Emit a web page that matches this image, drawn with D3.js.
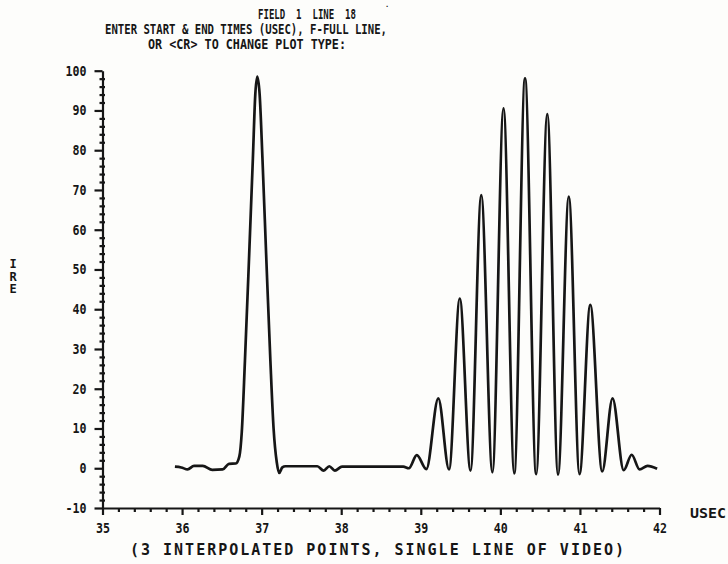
<!DOCTYPE html>
<html>
<head>
<meta charset="utf-8">
<script src="https://cdn.jsdelivr.net/npm/d3@7"></script>
<style>
  body { margin: 0; background: #fdfdfb; }
  svg text { font-family: "DejaVu Sans Mono", monospace; font-weight: bold; font-size: 13px; fill: #161616; white-space: pre; }
</style>
</head>
<body>
<svg width="728" height="564"></svg>
<script>
// Data
var timeUsec = [35.91, 35.99, 36.07, 36.15, 36.26, 36.38, 36.51, 36.59, 36.675, 36.72,
  36.75, 36.79, 36.84, 36.89, 36.92, 36.946, 36.975, 37.01, 37.06, 37.11,
  37.15, 37.19, 37.22, 37.26, 37.30, 37.70, 37.78, 37.85, 37.92, 38.01,
  38.78, 38.85, 38.95, 39.07, 39.22, 39.355, 39.49, 39.625, 39.76, 39.90,
  40.04, 40.175, 40.31, 40.45, 40.59, 40.725, 40.86, 40.995, 41.13, 41.28,
  41.41, 41.55, 41.65, 41.75, 41.85, 41.97];
var ireValues = [0.4, 0.2, -0.3, 0.6, 0.6, -0.4, -0.3, 1.1, 1.2, 3,
  9, 27, 52, 78, 94, 98.5, 94, 78, 52, 27,
  10, 1.5, -1.2, 0.2, 0.5, 0.5, -0.6, 0.5, -0.6, 0.4,
  0.4, 0.0, 3.3, -0.2, 17.6, -0.3, 42.7, -0.6, 68.7, -1.0,
  90.5, -1.3, 98.1, -1.5, 89.1, -1.6, 68.3, -1.5, 41.1, -0.8,
  17.6, -0.5, 3.4, -0.3, 0.6, -0.1];

var xMajor = [35, 36, 37, 38, 39, 40, 41, 42];
var yMajor = [-10, 0, 10, 20, 30, 40, 50, 60, 70, 80, 90, 100];

var titleLines = ["FIELD  1  LINE  18", "ENTER START & END TIMES (USEC), F-FULL LINE,", "OR <CR> TO CHANGE PLOT TYPE:"];
var xTitle = "(3 INTERPOLATED POINTS, SINGLE LINE OF VIDEO)";
var yTitle = ["I", "R", "E"];

var svg = d3.select("svg");
var ink = "#161616";

// squeeze the mono font to look like the plotter lettering
function squeeze(sel, perChar) {
  sel.each(function() {
    var t = d3.select(this);
    t.attr("textLength", t.text().length * perChar).attr("lengthAdjust", "spacingAndGlyphs");
  });
}

// scales
var x = d3.scaleLinear().domain([35, 42]).range([102.5, 659.5]);
var y = d3.scaleLinear().domain([-10, 100]).range([508, 70.7]);

var points = timeUsec.map(function(t, i) { return [t, ireValues[i]]; });

// y minor ticks (cross the axis)
var yMinor = d3.range(-8, 100, 2).filter(function(v) { return v % 10 != 0; });
svg.append("g")
  .attr("transform", "translate(" + x(35) + ",0)")
  .call(d3.axisLeft(y).tickValues(yMinor).tickSize(3).tickFormat(""))
  .call(function(g) { g.select(".domain").remove(); });
svg.append("g")
  .attr("transform", "translate(" + x(35) + ",0)")
  .call(d3.axisRight(y).tickValues(yMinor).tickSize(2.5).tickFormat(""))
  .call(function(g) { g.select(".domain").remove(); });

// y axis with labels
svg.append("g")
  .attr("class", "yaxis")
  .attr("transform", "translate(" + x(35) + ",0)")
  .call(d3.axisLeft(y).tickValues(yMajor).tickSizeInner(8).tickSizeOuter(0).tickPadding(8)
    .tickFormat(function(d) { return String(d); }));

// x minor ticks
var xMinor = d3.range(35.2, 42, 0.2).filter(function(v) { return Math.abs(v - Math.round(v)) > 0.01; });
svg.append("g")
  .attr("transform", "translate(0," + y(-10) + ")")
  .call(d3.axisBottom(x).tickValues(xMinor).tickSize(4).tickFormat(""))
  .call(function(g) { g.select(".domain").remove(); });

// x axis with labels
svg.append("g")
  .attr("class", "xaxis")
  .attr("transform", "translate(0," + y(-10) + ")")
  .call(d3.axisBottom(x).tickValues(xMajor).tickSizeInner(7).tickSizeOuter(0).tickPadding(8)
    .tickFormat(function(d) { return String(d); }));

svg.selectAll(".domain, .tick line")
  .attr("stroke", ink)
  .attr("stroke-width", 2.2);
svg.selectAll(".tick text")
  .attr("fill", ink)
  .style("font-size", "13.5px")
  .call(squeeze, 7);

// the waveform
svg.append("path")
  .datum(points)
  .attr("fill", "none")
  .attr("stroke", ink)
  .attr("stroke-width", 2.7)
  .attr("stroke-linejoin", "round")
  .attr("d", d3.line()
    .x(function(d) { return x(d[0]); })
    .y(function(d) { return y(d[1]); })
    .curve(d3.curveMonotoneX));

// header text
svg.append("text").attr("x", 258).attr("y", 19).text(titleLines[0])
  .style("font-size", "14px")
  .attr("textLength", 98).attr("lengthAdjust", "spacingAndGlyphs");
svg.append("text").attr("x", 385).attr("y", 7).text(".")
  .style("font-size", "7px");
svg.append("text").attr("x", 105).attr("y", 34).text(titleLines[1])
  .style("font-size", "14px")
  .attr("textLength", 282).attr("lengthAdjust", "spacingAndGlyphs");
svg.append("text").attr("x", 148).attr("y", 49).text(titleLines[2])
  .style("font-size", "14px")
  .attr("textLength", 198).attr("lengthAdjust", "spacingAndGlyphs");

// axis titles
svg.append("text").attr("x", 690).attr("y", 518).text("USEC")
  .style("font-size", "14px")
  .attr("textLength", 36).attr("lengthAdjust", "spacingAndGlyphs");
svg.append("text").attr("x", 130).attr("y", 555).text(xTitle)
  .style("font-size", "15px")
  .attr("textLength", 494).attr("lengthAdjust", "spacing");
svg.selectAll(".ylab")
  .data(yTitle)
  .enter()
  .append("text")
    .attr("class", "ylab")
    .attr("x", 13)
    .attr("y", function(d, i) { return 268 + i * 12.5; })
    .attr("text-anchor", "middle")
    .style("font-size", "12px")
    .text(function(d) { return d; });
</script>
</body>
</html>
